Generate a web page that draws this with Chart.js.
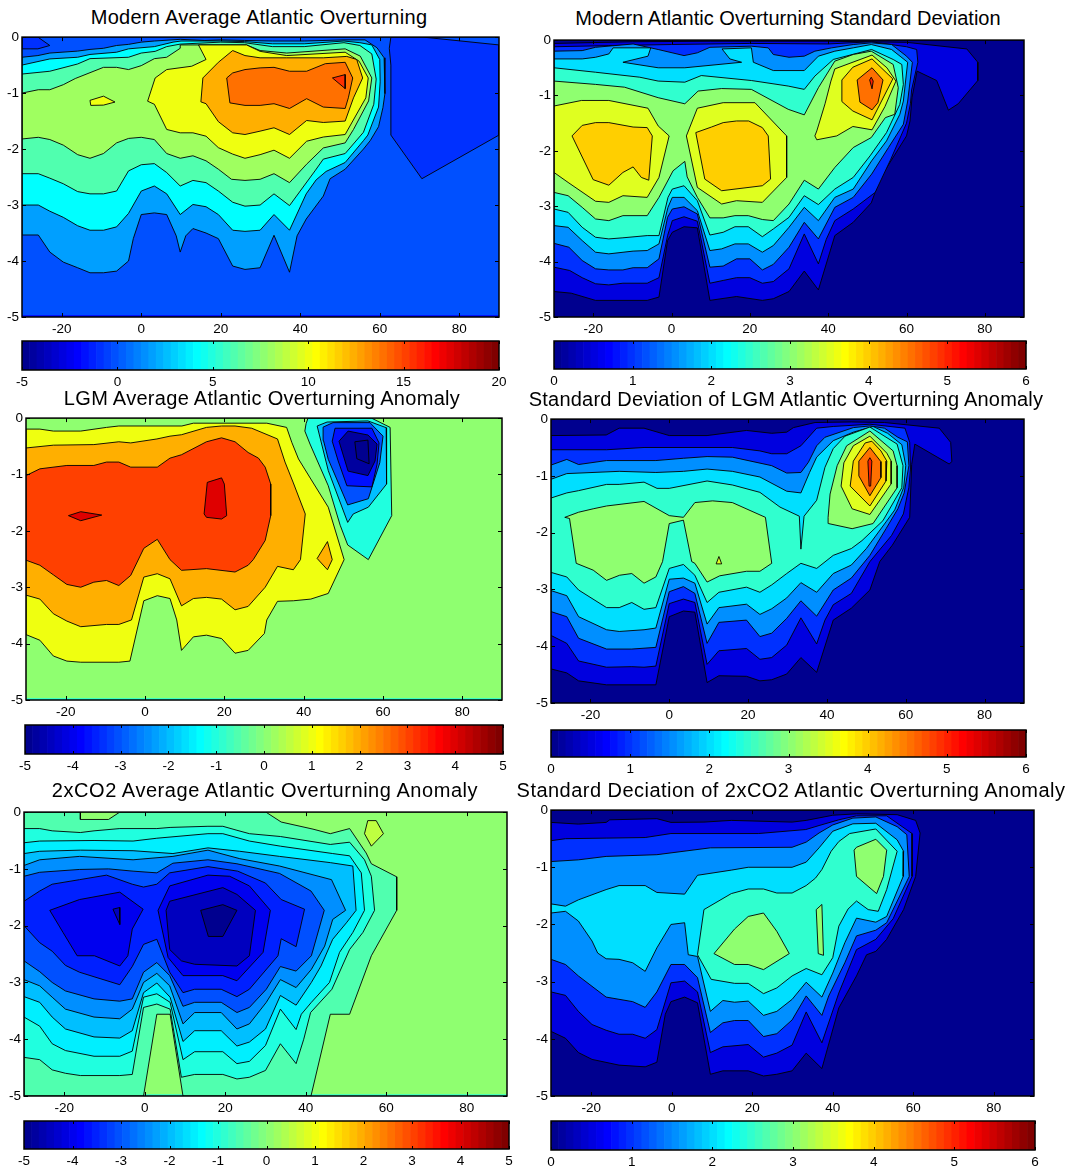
<!DOCTYPE html>
<html>
<head>
<meta charset="utf-8">
<title>Atlantic Overturning</title>
<script src="https://cdn.jsdelivr.net/npm/chart.js@4"></script>
<style>
  html, body { margin: 0; background: #fff; }
  #page { position: relative; width: 1077px; height: 1173px; overflow: hidden; }
  canvas { position: absolute; }
  .title { position: absolute; transform: translateX(-50%); white-space: nowrap; font: 20px "Liberation Sans", Arial, sans-serif; color: #000; }
</style>
</head>
<body>
<div id="page"></div>
<script>
// ─── Axis ticks ──────────────────────────────────────────────────
const LON_TICKS = [-20, 0, 20, 40, 60, 80];
const DEPTH_TICKS = [-5, -4, -3, -2, -1, 0];
const BAR_TICKS_MODERN = [-5, 0, 5, 10, 15, 20];
const BAR_TICKS_ANOM = [-5, -4, -3, -2, -1, 0, 1, 2, 3, 4, 5];
const BAR_TICKS_STD = [0, 1, 2, 3, 4, 5, 6];

// MATLAB jet, 64 steps, as in the colour bars
const JET = ['#00008f','#00009f','#0000af','#0000bf','#0000cf','#0000df','#0000ef','#0000ff',
  '#0010ff','#0020ff','#0030ff','#0040ff','#0050ff','#0060ff','#0070ff','#0080ff',
  '#008fff','#009fff','#00afff','#00bfff','#00cfff','#00dfff','#00efff','#00ffff',
  '#10ffef','#20ffdf','#30ffcf','#40ffbf','#50ffaf','#60ff9f','#70ff8f','#80ff80',
  '#8fff70','#9fff60','#afff50','#bfff40','#cfff30','#dfff20','#efff10','#ffff00',
  '#ffef00','#ffdf00','#ffcf00','#ffbf00','#ffaf00','#ff9f00','#ff8f00','#ff8000',
  '#ff7000','#ff6000','#ff5000','#ff4000','#ff3000','#ff2000','#ff1000','#ff0000',
  '#ef0000','#df0000','#cf0000','#bf0000','#af0000','#9f0000','#8f0000','#800000'];

// ─── Contour data: [longitude, depth in km] ──────────────────────
const fullBox = [[-30,0],[90,0],[90,5],[-30,5]];
const seaBox = [[-30,0],[90,0],[90,4.97],[-30,4.97]];

// Modern average
const modernAvgLevels = [-2, -0.3, -0.9, -0.9, 1.8, 4.2, 6.1, 8.1, 10, 10, 12.4, 14, 15.5];
const modernAvgShapes = [fullBox, seaBox,
  [[-30,0],[-26,0],[-23,.15],[-26,.21],[-30,.21]],
  [[62.8,0],[70.9,0],[90,.14],[90,1.75],[70.6,2.53],[62.8,1.75],[62.8,.5],[62.4,.2]],
  [[-30,.36],[-26,.33],[-23,.285],[-16,.25],[-12.9,.22],[-9.5,.2],[-6.2,.15],[-3.2,.13],[0,.09],[3.3,.07],[9.8,.04],[16,.06],[20,.05],[26,.06],[33,.07],[41,.07],[51,.05],[56.3,.05],[59.3,.19],[61.1,.37],[61.3,1.01],[60.8,1.26],[59.7,1.6],[57.6,1.85],[55.9,2],[51.3,2.36],[47.5,2.53],[45.8,2.84],[41.5,3.25],[39.2,3.55],[37.3,4.2],[33.4,3.54],[29.9,4.12],[26.1,4.15],[23,4.09],[19.4,3.6],[16.3,3.5],[13,3.42],[11.2,3.55],[9.8,3.84],[8.8,3.55],[6.4,3.17],[3.3,3.14],[0,3.17],[-2,3.6],[-3.2,4],[-6.2,4.18],[-9.5,4.21],[-12.9,4.21],[-16,4.12],[-19.6,4.02],[-23,3.84],[-25.9,3.535],[-30,3.535]],
  [[-30,.5],[-23,.39],[-16,.36],[-12.9,.31],[-6.2,.27],[-3.2,.21],[3.3,.17],[8,.09],[10,.07],[20,.07],[26,.08],[33,.12],[41,.12],[51,.07],[55,.1],[58,.14],[60,.4],[60.1,.8],[59.7,1.25],[57,1.75],[55.9,1.85],[51.3,2.24],[46.5,2.4],[44,2.55],[41.5,2.8],[37.3,3.45],[33.4,3.17],[29.9,3.45],[26.1,3.47],[23,3.45],[19.4,3.17],[16.3,3.03],[13,2.99],[9.8,3.17],[6.4,2.8],[3.3,2.66],[0,2.75],[-3.2,3.15],[-6.2,3.39],[-9.5,3.45],[-12.9,3.45],[-16,3.37],[-19.6,3.22],[-23,3.11],[-25.9,3],[-30,3]],
  [[-30,.66],[-23,.61],[-16,.48],[-12.9,.385],[-3.2,.36],[0,.285],[3.5,.255],[6.4,.17],[9.8,.125],[20,.09],[26,.1],[33,.17],[41,.17],[51,.1],[55,.15],[58,.3],[59.1,.75],[58.5,1.2],[55.9,1.7],[51.3,2.08],[45.8,2.18],[43.7,2.39],[37.3,3.01],[33.4,2.8],[29.9,3],[26.1,3.02],[23,2.95],[19.4,2.75],[16.3,2.6],[13,2.56],[9.8,2.66],[6.4,2.42],[3.3,2.26],[0,2.28],[-3.2,2.39],[-6.2,2.75],[-9.5,2.8],[-12.9,2.8],[-16,2.76],[-19.6,2.62],[-23,2.52],[-25.9,2.44],[-30,2.44]],
  [[-30,1],[-25.9,.94],[-23,.94],[-19.6,.85],[-16.6,.74],[-9.5,.54],[-6.2,.54],[-3.2,.58],[0,.51],[3.3,.385],[6.4,.36],[9.8,.2],[9.8,.14],[26.5,.14],[29.9,.24],[36.6,.285],[51.3,.21],[55.1,.34],[58,.73],[57.2,1.14],[53.4,1.65],[51.3,1.89],[45.8,1.98],[41.6,2.27],[37.3,2.6],[33.4,2.44],[29.9,2.54],[26.1,2.56],[22.7,2.54],[19.4,2.36],[16.3,2.21],[13,2.12],[9.8,2.165],[6.4,2.08],[3.3,1.83],[0,1.79],[-3.2,1.81],[-6.2,1.89],[-9.5,2.08],[-12.9,2.165],[-16,2.1],[-19.6,1.93],[-23,1.83],[-25.9,1.79],[-30,1.82]],
  [[14.4,.14],[26.5,.14],[29.9,.255],[36.6,.33],[51.3,.27],[54.8,.43],[57.1,.73],[56.5,1.085],[51.3,1.74],[45.8,1.785],[41.6,1.86],[37.3,2.165],[33.4,2.02],[29.9,2.1],[26.1,2.165],[23,2.09],[19.4,1.975],[16.3,1.77],[13,1.71],[9.8,1.71],[6.4,1.65],[3.3,1.2],[1.6,1.145],[3.5,.73],[6.4,.58],[12.7,.52],[16.3,.4]],
  [[-12.9,1.13],[-9.5,1.055],[-6.6,1.16],[-9.5,1.215],[-12.7,1.22]],
  [[15.5,.73],[19.4,.45],[23,.24],[26.1,.33],[29.9,.37],[36.6,.37],[45.8,.37],[51.7,.345],[54.2,.4],[55.7,.73],[53.4,1.085],[51.3,1.5],[45.8,1.525],[41.6,1.49],[37.3,1.74],[33.4,1.62],[29.9,1.68],[26.1,1.74],[23,1.71],[19.4,1.51],[16.3,1.19],[15,1.157]],
  [[21.5,.73],[23,.64],[26.1,.58],[29.9,.55],[33.4,.54],[37.3,.61],[41.6,.61],[46.3,.475],[51.3,.45],[53.2,.73],[52.1,1.085],[51.3,1.275],[45.8,1.25],[41.6,1.1],[37.3,1.275],[33.4,1.19],[29.9,1.22],[26.1,1.22],[22.3,1.175]],
  [[48.1,.73],[51.3,.67],[51.3,.92]]
];

// Modern standard deviation
const modernStdLevels = [0.05, 0.05, 0.5, 1, 1.5, 2, 2.5, 3, 3.5, 3.5, 3.5, 4, 4, 4, 4.5, 5];
const modernStdShapes = [fullBox, seaBox,
  [[-30,.06],[-10,.03],[10,.02],[40,.02],[60,.04],[75.4,.16],[78.2,.4],[78.2,.73],[73.2,1.15],[70.7,1.265],[67.7,.73],[62.7,.56],[61.4,1.04],[60.9,1.46],[60,1.73],[53.4,2.48],[51,2.94],[46.4,3.29],[41.7,3.53],[37.5,4.51],[33.9,4.17],[30,4.54],[26,4.67],[23.2,4.7],[16.6,4.63],[9.8,4.7],[6.6,3.39],[3.2,3.37],[.2,3.47],[-1,3.62],[-3.2,4.64],[-6.2,4.7],[-19.4,4.7],[-25.6,4.57],[-30,4.54]],
  [[-30,.12],[-16,.1],[0,.08],[20,.06],[40,.07],[51,.03],[60,.12],[62.6,.17],[62.9,.4],[61.3,.9],[61,1.15],[60,1.5],[56,2.15],[52,2.75],[46.4,3.05],[41.7,3.26],[39.5,3.6],[37.5,4.04],[33.9,3.5],[30,4.13],[26,4.36],[23.2,4.39],[20,4.29],[16.6,4.29],[13.2,4.34],[9.8,4.39],[6.6,3.27],[3.2,3.19],[.2,3.26],[-1,3.53],[-3.2,4.29],[-6.2,4.39],[-12.4,4.39],[-16,4.42],[-19.4,4.4],[-22.8,4.29],[-26,4.16],[-30,4.1]],
  [[-30,.2],[-22.8,.19],[-19.4,.13],[-9.8,.07],[-3.4,.17],[3.2,.28],[6.6,.23],[9.8,.13],[20.4,.11],[24.7,.14],[26,.26],[30,.31],[33.9,.29],[36.6,.2],[40.9,.14],[46.4,.08],[51,.05],[56.2,.08],[60,.29],[61.5,.4],[60.3,1.1],[59.2,1.52],[55.4,1.94],[51.1,2.42],[46.4,2.84],[41.7,3.02],[37.5,3.59],[33.9,3.29],[30,3.74],[26,4.05],[23.2,4.15],[20,3.95],[16.6,3.95],[13.2,4.08],[9.8,4.1],[6.6,3.14],[3.2,3.01],[.2,3.05],[-1,3.2],[-3.2,3.95],[-6.2,4.11],[-9.8,4.11],[-12.4,4.15],[-16,4.15],[-19.4,4.13],[-22.8,3.98],[-26.2,3.74],[-30,3.67]],
  [[-30,.34],[-22.8,.34],[-19.4,.31],[-16,.25],[-14.9,.14],[-5.3,.14],[-6,.29],[-12.4,.4],[-3.4,.5],[3.4,.5],[17.9,.4],[14.9,.34],[12.9,.16],[20.4,.14],[20.9,.4],[26,.55],[33.9,.55],[37.5,.29],[41.7,.2],[46.4,.14],[51,.08],[56.2,.17],[60.3,.4],[59.2,1.1],[58.3,1.34],[54.9,1.82],[51.1,2.18],[46.4,2.69],[41.7,2.84],[37.5,3.26],[33.9,3.02],[30,3.38],[26,3.71],[23.2,3.83],[19.6,3.68],[16.2,3.68],[12.8,3.77],[9.8,3.8],[6.6,3.08],[3.2,2.84],[.2,2.84],[-.9,3.02],[-3.2,3.68],[-6.2,3.8],[-9.8,3.81],[-16,3.86],[-19.4,3.83],[-22.8,3.62],[-26.4,3.38],[-30,3.35]],
  [[-30,.5],[-19.4,.58],[-8.1,.67],[-3.4,.74],[3.4,.76],[7.6,.64],[20.4,.73],[29.8,.83],[33.9,.89],[36.6,.65],[41.3,.35],[51.1,.17],[56.6,.35],[58.8,.44],[59.2,.8],[58.3,1.16],[54.9,1.67],[50.7,2.09],[46.4,2.48],[41.7,2.69],[37.5,2.97],[33.9,2.81],[30,3.2],[26,3.41],[23.2,3.55],[19.6,3.37],[16.2,3.37],[13.2,3.47],[9.8,3.52],[6.6,2.9],[3.2,2.63],[.2,2.69],[-.9,2.84],[-3.2,3.53],[-6.2,3.53],[-12.4,3.57],[-16,3.59],[-19.4,3.56],[-22.8,3.38],[-26.4,3.11],[-30,3.05]],
  [[-30,.74],[-19.4,.8],[-12,.85],[-3.4,1.04],[3.4,1.15],[6.8,.92],[12.8,.875],[20.4,.89],[29.8,1.25],[33.9,1.35],[37.5,.86],[41.7,.38],[46.4,.26],[51,.2],[56.6,.44],[57.9,.86],[57,1.34],[54.6,1.4],[51,1.76],[46.4,1.94],[41.7,2.3],[37.5,2.69],[33.9,2.53],[30,2.96],[26,3.26],[23.2,3.24],[19.6,3.17],[16.2,3.17],[13.2,3.21],[9.8,3.21],[6.6,2.84],[4,2.47],[3.4,2.19],[.4,2.36],[-3.2,2.84],[-6.2,3.17],[-12.4,3.17],[-16,3.26],[-19.4,3.23],[-22.8,3.02],[-26.4,2.81],[-30,2.75]],
  [[-30,1.19],[-23,1.09],[-16,1.09],[-6,1.23],[-3.4,1.55],[-.6,1.73],[-3.2,2.48],[-6.2,2.84],[-12.4,2.81],[-16,2.93],[-19.4,2.91],[-26.4,2.57],[-30,2.39]],
  [[6.6,1.23],[13.2,1.13],[21.3,1.13],[29.4,1.73],[29.4,2.48],[23.2,2.93],[16.6,2.9],[12.8,2.96],[6.6,2.66],[3.8,1.73]],
  [[37.1,1.8],[36.6,1.73],[37.1,1.64],[39.2,1.15],[40.7,.74],[41.7,.52],[51.2,.27],[55,.5],[57.3,.74],[54.5,1.2],[51.2,1.62],[46.3,1.56],[42.2,1.73]],
  [[-25.4,1.73],[-22.8,1.54],[-19.4,1.49],[-16,1.49],[-9.8,1.57],[-6.2,1.58],[-4.9,1.73],[-5.8,2.53],[-7.7,2.48],[-9.8,2.29],[-12.4,2.39],[-16,2.62],[-20,2.52]],
  [[6.2,1.67],[10.2,1.57],[13.2,1.49],[16.6,1.46],[19.7,1.46],[23.2,1.58],[24.7,1.73],[25.3,2.51],[23.2,2.63],[12.8,2.72],[8.5,2.51]],
  [[43.5,.72],[46.3,.49],[51.2,.34],[56.5,.7],[51.2,1.44],[46.3,1.28],[43.5,1.11]],
  [[47.4,.72],[51.2,.5],[54,.72],[52.7,1.13],[51.2,1.26],[48.1,1.12]],
  [[50.6,.72],[51,.67],[51.5,.74],[51.2,.88]]
];

// LGM anomaly
const lgmAvgLevels = [-1, 0, 1, 2, 2, 3, 4, 4, -1, -2, -3, -3.6, -4.7, -4.95];
const lgmAvgShapes = [fullBox, seaBox,
  [[-30,.195],[-26.5,.195],[-23.1,.23],[-16.2,.23],[-9.7,.165],[-6.6,.14],[9.3,.14],[12.2,.09],[17.4,.09],[30.7,.09],[35.7,.165],[37,.43],[38.7,.725],[41.8,1.08],[46.2,1.58],[50.2,2.51],[46.2,3.11],[41.8,3.21],[37.4,3.24],[33.4,3.25],[30.7,3.58],[30.1,3.82],[26,4.12],[22.7,4.17],[19.3,3.91],[15.5,3.85],[12.2,3.88],[9.2,4.12],[8,3.58],[6.3,3.2],[3.1,3.15],[-.3,3.24],[-3.8,4.31],[-6.6,4.33],[-16.2,4.33],[-19.7,4.31],[-23.1,4.22],[-26.5,3.94],[-30,3.84]],
  [[-30,.53],[-23.1,.48],[-12.9,.47],[-6.6,.42],[-3.6,.44],[3,.37],[6.3,.32],[9.2,.295],[15.5,.165],[19.3,.14],[22.7,.14],[26.9,.18],[33.4,.37],[35.3,.78],[37.4,1.15],[40.4,1.7],[39.2,2.51],[37.4,2.69],[33.4,2.63],[30.3,3],[26,3.34],[22.7,3.4],[19.3,3.21],[15.5,3.18],[12.2,3.2],[9.2,3.33],[6.3,2.85],[3.1,2.76],[-.3,2.82],[-3.4,3.58],[-6.6,3.66],[-9.7,3.66],[-16.2,3.7],[-19.7,3.6],[-23.1,3.47],[-26.5,3.21],[-30,3.14]],
  [[46,2.19],[47.2,2.51],[46,2.69],[43.4,2.49]],
  [[-30,1.02],[-26.5,.9],[-19.7,.84],[-12.9,.84],[-9.7,.78],[-6.6,.78],[-3.6,.87],[3.1,.87],[6.3,.71],[9.2,.65],[15.5,.42],[19.3,.35],[22.7,.42],[26,.61],[28.6,.71],[30.3,.87],[31.7,1.17],[31.7,1.73],[30.3,2.17],[27.3,2.51],[26,2.61],[22.7,2.73],[15.5,2.67],[9.2,2.7],[6.3,2.51],[3.1,2.15],[-.3,2.31],[-3.6,2.79],[-6.6,2.97],[-9.7,2.88],[-12.9,2.91],[-16.2,3],[-19.7,2.95],[-23.1,2.78],[-26.5,2.61],[-30,2.52]],
  [[15.7,1.14],[19.3,1.06],[20,1.17],[20.6,1.73],[19.3,1.79],[15.5,1.76],[14.9,1.7]],
  [[-19.3,1.73],[-16.2,1.66],[-10.9,1.72],[-16.2,1.82]],
  [[41.1,0],[57.1,0],[61.8,.165],[62.2,1.73],[56.3,2.51],[51.1,2.25],[49.2,1.9],[46.2,1.2],[41.6,.46],[40.3,.23],[40.6,.1]],
  [[43.4,.14],[45.9,.07],[56.2,.05],[60.8,.17],[61,.41],[60.8,1.17],[56.3,1.58],[52.5,1.7],[51.1,1.85],[46.2,.93]],
  [[44.9,.16],[47.4,.08],[56.7,.08],[60,.32],[59.2,.79],[56.3,1.43],[51.1,1.54],[46.2,.73],[45,.4]],
  [[47.2,.41],[47.9,.18],[57.2,.18],[59,.44],[58.5,.82],[57.2,1.22],[50.9,1.2],[48.7,.76]],
  [[48.9,.41],[51.2,.23],[56.2,.3],[58.5,.46],[58,.76],[56.2,1.02],[51.2,.94]],
  [[52.9,.42],[56.2,.39],[56.5,.81],[53.4,.72]]
];

// LGM standard deviation
const lgmStdLevels = [0.05, 0.05, 0.5, 1, 1.5, 2, 2.5, 3, 3, 3.5, 3.5, 4, 4.5, 5];
const lgmStdShapes = [fullBox, seaBox,
  [[-30,.29],[-16,.28],[-12.7,.16],[-6.4,.16],[0,.29],[9.6,.29],[19.6,.2],[26,.25],[29.8,.23],[31.5,.15],[37,.06],[46.2,.05],[54.6,.06],[68.5,.16],[71.4,.41],[71.7,.75],[71,.79],[62.3,.44],[61.5,.8],[61,1.73],[56.6,2.22],[53.4,2.51],[50.9,3.01],[46.2,3.33],[41.6,3.54],[37.4,4.46],[33.4,4.2],[29.8,4.49],[26,4.59],[23,4.61],[19.6,4.53],[12.6,4.52],[9.6,4.64],[6.5,3.4],[3.6,3.38],[0,3.48],[-3.4,4.68],[-15.9,4.68],[-23,4.61],[-26,4.47],[-30,4.4]],
  [[-30,.54],[-15.9,.54],[-6.4,.5],[16,.5],[23,.56],[26,.61],[29.8,.61],[33.4,.47],[37.4,.16],[41.6,.13],[50.9,.09],[59.8,.16],[61,.41],[61.2,.88],[60.8,1.2],[59.4,1.67],[56.4,2.05],[50.9,2.51],[46.2,3.07],[41.6,3.27],[39.5,3.54],[37.4,3.96],[33.4,3.5],[29.8,3.98],[26,4.2],[23,4.23],[19.6,4.04],[12.6,4.08],[9.6,4.32],[6.5,3.23],[3.6,3.17],[0,3.25],[-3.4,4.35],[-6.4,4.37],[-9.5,4.36],[-15.9,4.37],[-23,4.26],[-26,3.95],[-30,3.81]],
  [[-30,.81],[-26,.71],[-23,.8],[-15.9,.73],[-3.4,.73],[3.6,.69],[9.6,.66],[16,.67],[26,.82],[29.8,.95],[33.4,.94],[35.3,.76],[37.4,.47],[39.5,.32],[46.7,.15],[50.9,.12],[54.6,.16],[58,.32],[60.4,.4],[60.8,.82],[59.6,1.3],[58,1.58],[55,1.93],[50.9,2.4],[46.2,2.8],[41.6,3.01],[37.4,3.47],[33.4,3.2],[29.8,3.51],[26,3.77],[23,3.83],[19.6,3.54],[12.6,3.58],[9.6,3.95],[6.5,3.07],[3.6,2.95],[0,3.04],[-3.4,4.02],[-9.5,4.05],[-15.9,4.05],[-23,3.86],[-26,3.48],[-30,3.39]],
  [[-30,1.06],[-26,.96],[-12.7,.92],[-3.4,.94],[3.6,.92],[9.6,.88],[16,.92],[23,1.02],[29.8,1.27],[33.4,1.3],[35.6,.94],[37.4,.67],[41.6,.38],[46.7,.23],[51.7,.13],[55.4,.25],[59,.45],[60,.82],[59.5,1.2],[57.2,1.6],[55,1.81],[50,2.28],[46.2,2.57],[41.6,2.72],[37.4,3.05],[33.4,2.88],[29.8,3.15],[26,3.34],[23,3.44],[19.6,3.26],[12.6,3.32],[9.6,3.61],[6.5,2.89],[3.6,2.8],[0,2.82],[-3.4,3.68],[-6.4,3.71],[-12.7,3.74],[-15.9,3.71],[-23,3.48],[-26,3.11],[-30,3.02]],
  [[-30,1.39],[-26,1.3],[-23,1.26],[-15.9,1.15],[-12.7,1.15],[-6.4,1.11],[-3.1,1.22],[0,1.22],[9.6,1.09],[16,1.16],[23,1.29],[28.1,1.55],[33,1.71],[33.4,2.29],[34.2,1.71],[37.4,1.43],[39.5,.85],[41.6,.52],[44.6,.3],[50.9,.14],[57.8,.44],[59.3,.82],[59,1.21],[54.2,1.79],[48.9,2.14],[46.2,2.28],[41.6,2.4],[37.4,2.63],[33.4,2.54],[29.8,2.72],[26,2.92],[23,3.05],[19.6,2.96],[12.6,3.05],[9.6,3.23],[6.5,2.75],[3.6,2.56],[0,2.63],[-3.4,3.32],[-6.4,3.35],[-9.5,3.23],[-12.7,3.32],[-15.9,3.32],[-23,3.01],[-26,2.78],[-30,2.7]],
  [[-26.5,1.73],[-25.3,1.75],[-23.6,2.54],[-19.3,2.66],[-15.9,2.84],[-12.6,2.75],[-9.5,2.72],[-6.4,2.89],[-3.4,2.78],[-1.7,2.51],[0,1.84],[3.6,1.78],[5.7,2.51],[6.5,2.54],[9.6,2.87],[12.8,2.76],[19.6,2.68],[23,2.68],[26,2.54],[24.4,1.73],[16,1.47],[11,1.44],[6.5,1.47],[3.6,1.73],[0,1.7],[-6.4,1.45],[-15.9,1.53],[-19.3,1.58],[-23,1.64]],
  [[40.3,1.73],[40.8,1.32],[42.6,.82],[45,.47],[50.9,.21],[56.8,.56],[57.8,.82],[57.8,1.21],[51.7,1.84],[46.4,1.93],[40.4,1.84]],
  [[12.6,2.42],[13.3,2.55],[11.9,2.55]],
  [[43.6,1.18],[44.3,.77],[46.7,.47],[50.9,.3],[55.2,.6],[56.3,.74],[56.3,1.14],[50.9,1.68],[46.4,1.58]],
  [[45.9,1.18],[46.7,.74],[49.7,.42],[51.4,.39],[53.7,.56],[55.2,.74],[55,1.09],[50.9,1.53]],
  [[48.1,1],[48.1,.74],[50.9,.5],[53.7,.75],[53.7,1.03],[50.9,1.35]],
  [[50.4,.74],[50.9,.68],[51.4,.74],[51.1,1.18],[50.7,1.18]]
];

// 2xCO2 anomaly
const co2AvgLevels = [-0.9, 0, -0.5, 0.5, -1, -1.5, -2, -2.5, -3, -3.5, -4, -4.5, -4, -4.5, -4.9];
const co2AvgShapes = [fullBox, seaBox,
  [[-30,0],[-16,0],[-16,.13],[-9,.13],[-6.2,0],[30.1,0],[33.9,.175],[41.8,.3],[46.1,.38],[50.9,.29],[55,.72],[56.3,.91],[62.6,1.14],[62.6,1.73],[56.3,2.53],[50.9,3.56],[46.1,3.56],[41.3,5],[9.5,5],[6.3,3.56],[3,3.56],[-.3,5],[-30,5]],
  [[55.4,.15],[57.5,.15],[59.3,.38],[56.3,.6],[54.6,.38]],
  [[-30,.29],[-26.1,.29],[-23,.33],[-16,.36],[-12.6,.33],[-6.2,.29],[3,.29],[6.3,.27],[15.7,.25],[19.4,.25],[22.9,.32],[26,.38],[33.7,.43],[46.1,.57],[50.9,.53],[54.6,.84],[56.3,1.13],[57.1,1.73],[54.2,2.12],[50.9,2.42],[46.5,3.12],[41.2,3.53],[39.5,4],[37.6,4.43],[33.7,4.08],[30,4.55],[26,4.67],[22.9,4.7],[19.4,4.62],[12.4,4.62],[9.1,4.67],[6.3,3.47],[3,3.38],[-.3,3.44],[-3.1,4.62],[-6.2,4.64],[-16,4.64],[-19.7,4.6],[-23,4.54],[-26.1,4.36],[-30,4.32]],
  [[-30,.54],[-26.1,.51],[-12.6,.5],[-2.9,.51],[3,.46],[15.7,.38],[19.4,.38],[26,.51],[33.7,.6],[46.7,.73],[50.9,.77],[53.8,1.07],[54.6,1.73],[51.7,2.12],[48.4,2.47],[45.9,3],[41.4,3.35],[38.9,3.56],[37.6,3.83],[33.7,3.47],[30,4.11],[26,4.39],[22.9,4.43],[19.4,4.22],[12.4,4.22],[9.5,4.36],[6.3,3.35],[3,3.2],[-.3,3.26],[-3.1,4.21],[-6.2,4.3],[-12.6,4.3],[-19.7,4.2],[-23,4.08],[-26.1,3.77],[-30,3.61]],
  [[-30,.73],[-26.1,.69],[-16,.67],[-2.9,.68],[7,.73],[15.7,.63],[23.6,.69],[33.5,.78],[46.1,.89],[51.7,.95],[52.5,1.73],[50.1,1.95],[46.7,2.24],[43.8,2.71],[41.4,3],[37.6,3.4],[33.7,3.23],[30,3.82],[26,4.05],[22.9,4.12],[19,3.85],[12.4,3.85],[9.5,4.04],[6.3,3.26],[3,3.01],[-.3,3.18],[-3.1,3.85],[-6.2,3.98],[-12.6,3.96],[-19.7,3.82],[-23,3.61],[-26.1,3.35],[-30,3.25]],
  [[-30,.94],[-26.1,.84],[-16.2,.78],[-2.9,.84],[7,.78],[15.7,.67],[23.6,.82],[33.5,.95],[46.4,1.19],[49.9,1.73],[46.7,1.89],[44.7,2.36],[41.4,2.77],[37.6,3.09],[33.7,2.95],[30.2,3.35],[26,3.73],[22.9,3.82],[19,3.53],[12.4,3.53],[9.5,3.73],[6.2,3.06],[3,2.84],[-.3,3],[-3.1,3.47],[-6.2,3.64],[-12.6,3.61],[-19.7,3.47],[-23,3.26],[-26.1,3.06],[-30,2.95]],
  [[-30,1.13],[-26.1,1.06],[-16.2,1.01],[-9,1],[-2.9,1.04],[3,1.07],[7,.9],[15.7,.84],[22.9,.91],[33.5,1.08],[41.3,1.39],[44.6,1.73],[41.4,2.53],[37.6,2.8],[33.7,2.72],[30.2,3.12],[26,3.44],[22.9,3.53],[19,3.35],[12.4,3.35],[9.5,3.42],[6.2,2.88],[3,2.65],[-.3,2.82],[-3.1,3.29],[-6.2,3.33],[-12.6,3.29],[-19.7,3.15],[-23,3],[-26.1,2.81],[-30,2.62]],
  [[-30,1.57],[-26.1,1.39],[-23,1.27],[-16.2,1.19],[-9.5,1.11],[-3.1,1.27],[-.3,1.32],[3,1.27],[6.2,1.07],[15.7,.96],[23.1,1.04],[30,1.25],[33.9,1.54],[39.7,1.71],[37.6,2.37],[33.9,2.23],[33.1,2.53],[26,3.12],[22.9,3.25],[19,3.12],[12.4,3.12],[9.5,3.18],[6.2,2.82],[3,2.24],[-.3,2.33],[-3.1,2.72],[-6.2,3.04],[-12.6,2.9],[-16.2,2.82],[-19.7,2.7],[-23,2.45],[-26.1,2.3],[-30,2]],
  [[-23.6,1.73],[-16.2,1.54],[-6.2,1.41],[-.4,1.71],[-3.1,2.06],[-4.2,2.53],[-6.2,2.71],[-12.5,2.53],[-16.8,2.53],[-20.3,2.12]],
  [[-7.9,1.71],[-6.2,1.68],[-6.2,1.98]],
  [[3.3,1.73],[6.2,1.3],[15.7,1.11],[21.1,1.13],[26,1.3],[31.2,1.73],[29.4,2.47],[22.9,2.97],[19.4,2.88],[9.5,2.88],[5.8,2.56]],
  [[5.3,1.73],[6.2,1.57],[19.4,1.33],[22.9,1.45],[27.5,1.73],[26,2.53],[22.9,2.71],[12.4,2.68],[9.1,2.62],[6.2,2.42]],
  [[13.9,1.73],[19.4,1.63],[22.9,1.73],[19.4,2.19],[15.8,2.19]]
];

// 2xCO2 standard deviation
const co2StdLevels = [0.05, 0.05, 0.5, 1, 1.5, 2, 2.5, 3, 3, 3];
const co2StdShapes = [fullBox, seaBox,
  [[-30,.215],[-23.2,.245],[-16.3,.215],[-15.4,.17],[-3.7,.15],[-.2,.215],[8,.21],[14.8,.18],[29.9,.21],[33.4,.18],[40,.09],[45.9,.065],[56,.08],[60.6,.18],[61.7,.4],[60.6,1.16],[57.6,1.74],[53.4,2.26],[50.7,2.47],[48.4,2.53],[45.9,2.9],[41.5,3.46],[37.3,4.52],[33.4,4.25],[29.9,4.56],[26.1,4.62],[22.8,4.65],[19,4.56],[12.7,4.56],[9.6,4.62],[6.4,3.37],[3.2,3.27],[-.2,3.35],[-1.6,3.57],[-3.7,4.41],[-6.6,4.49],[-13.1,4.46],[-19.8,4.36],[-23.2,4.24],[-26.4,3.99],[-30,3.87]],
  [[-30,.535],[-26.4,.5],[-16.3,.49],[-6.6,.48],[-.2,.41],[21.5,.41],[23.2,.4],[33.3,.34],[36.6,.27],[41.5,.17],[45.9,.1],[53.4,.1],[59.7,.41],[59.7,1.16],[55,1.9],[50.7,2.26],[45.9,2.44],[41.5,3.2],[37.3,4.07],[33.4,3.53],[29.9,4.11],[26.1,4.25],[22.8,4.32],[19,4.1],[12.7,4.14],[9.6,4.24],[6.4,3.18],[3.2,2.99],[-.2,3.02],[-3.7,3.84],[-6.6,3.99],[-9.7,3.92],[-13.1,3.92],[-16.3,3.85],[-19.8,3.75],[-23.2,3.52],[-26.4,3.24],[-30,3.18]],
  [[-30,.9],[-23.2,.87],[-16.3,.81],[-3.7,.78],[9.6,.66],[29.9,.65],[33.4,.56],[36.6,.4],[40,.26],[45,.14],[50.7,.12],[56,.29],[58.4,.43],[59,1.16],[53.4,1.97],[50.7,2.1],[45.9,2.2],[43,2.67],[39,3.25],[37.3,3.59],[33.4,3.25],[29.9,3.67],[26.1,3.91],[22.8,3.96],[19,3.68],[15.6,3.68],[12.7,3.72],[9.6,3.89],[6.4,2.93],[3.2,2.7],[-.2,2.7],[-3.7,3.18],[-6.6,3.45],[-9.7,3.35],[-16.3,3.27],[-23.2,2.9],[-26.4,2.7],[-30,2.61]],
  [[-30,1.64],[-26.4,1.68],[-23.2,1.57],[-16.3,1.39],[-13.1,1.32],[-6.6,1.32],[-3.7,1.44],[3.2,1.47],[6.4,1.14],[14.8,1.05],[19,1],[29.9,1],[33.4,.91],[36.6,.66],[40,.37],[45,.24],[50.7,.23],[56,.52],[57.6,.72],[57.5,1.16],[53.4,1.86],[50.7,1.96],[45.9,1.89],[43,2.32],[40,2.85],[37.3,3.27],[33.4,3.01],[29.9,3.31],[26.1,3.52],[22.8,3.59],[19,3.34],[15.6,3.36],[12.7,3.33],[9.6,3.52],[6.4,2.56],[4.1,2.53],[3.2,1.97],[-.2,2],[-3.7,2.41],[-6.6,2.82],[-9.7,2.67],[-13.1,2.61],[-16.3,2.6],[-18.4,2.5],[-19.8,2.29],[-23.2,1.94],[-26.4,1.77],[-30,1.8]],
  [[8,1.74],[14.8,1.46],[19,1.38],[22.8,1.38],[26.1,1.45],[29.9,1.45],[33.4,1.32],[35.7,1.19],[37.3,1.04],[39.6,.72],[41.5,.55],[44.2,.41],[50.7,.33],[56,.72],[53.4,1.39],[51.3,1.77],[48.8,1.74],[45.9,1.59],[43.8,1.73],[41.5,2.03],[40,2.58],[37.3,2.88],[33.4,2.77],[29.9,2.9],[26.1,3.11],[22.8,3.21],[19,3.03],[15.6,3.03],[9.8,2.96],[6.4,2.53]],
  [[10.5,2.51],[15.6,2.08],[19,1.86],[22.8,1.8],[26.1,2.12],[29.2,2.51],[22.8,2.79],[19,2.7],[15.6,2.7]],
  [[35.9,1.74],[37.3,1.65],[37.7,2.54],[36.4,2.51]],
  [[45.3,.7],[45.9,.65],[50.7,.51],[53.4,.7],[52.6,1.16],[50.9,1.46],[45.9,1.16]]
];

// ─── Layout ──────────────────────────────────────────────────────
const PANELS = [
  { title: 'Modern Average Atlantic Overturning', cx: 259, ty: 6, spacing: .29, plot: [22, 36, 477, 281], bar: [22, 341, 477, 29], levels: modernAvgLevels, shapes: modernAvgShapes, range: [-5, 20], barTicks: BAR_TICKS_MODERN },
  { title: 'Modern Atlantic Overturning Standard Deviation', cx: 788, ty: 7, spacing: .04, plot: [554, 39, 470, 278], bar: [554, 341, 472, 28], levels: modernStdLevels, shapes: modernStdShapes, range: [0, 6], barTicks: BAR_TICKS_STD },
  { title: 'LGM Average Atlantic Overturning Anomaly', cx: 262, ty: 387, spacing: .3, plot: [26, 417, 476, 283], bar: [25, 725, 478, 29], levels: lgmAvgLevels, shapes: lgmAvgShapes, range: [-5, 5], barTicks: BAR_TICKS_ANOM },
  { title: 'Standard Deviation of LGM Atlantic Overturning Anomaly', cx: 786, ty: 388, spacing: .2, plot: [551, 418, 473, 285], bar: [551, 730, 475, 27], levels: lgmStdLevels, shapes: lgmStdShapes, range: [0, 6], barTicks: BAR_TICKS_STD },
  { title: '2xCO2 Average Atlantic Overturning Anomaly', cx: 265, ty: 779, spacing: .55, plot: [24, 811, 483, 285], bar: [24, 1121, 485, 28], levels: co2AvgLevels, shapes: co2AvgShapes, range: [-5, 5], barTicks: BAR_TICKS_ANOM },
  { title: 'Standard Deciation of 2xCO2 Atlantic Overturning Anomaly', cx: 791, ty: 779, spacing: .47, plot: [551, 809, 483, 287], bar: [551, 1121, 484, 29], levels: co2StdLevels, shapes: co2StdShapes, range: [0, 6], barTicks: BAR_TICKS_STD }
];

const TICK_FONT = { family: '"Liberation Sans", Arial, sans-serif', size: 13.5 };

// frame and inward ticks on all sides, MATLAB style
const boxPlugin = {
  id: 'box',
  afterDatasetsDraw(chart, args, opts) {
    const { ctx, chartArea: a, scales } = chart;
    const len = opts.len;
    ctx.save();
    ctx.strokeStyle = '#000';
    ctx.lineWidth = 1;
    ctx.beginPath();
    scales.x.ticks.forEach(t => {
      const px = Math.round(scales.x.getPixelForValue(t.value)) + .5;
      ctx.moveTo(px, a.top); ctx.lineTo(px, a.top + len);
      ctx.moveTo(px, a.bottom); ctx.lineTo(px, a.bottom - len);
    });
    if (opts.yTicks) scales.y.ticks.forEach(t => {
      const py = Math.round(scales.y.getPixelForValue(t.value)) + .5;
      ctx.moveTo(a.left, py); ctx.lineTo(a.left + len, py);
      ctx.moveTo(a.right, py); ctx.lineTo(a.right - len, py);
    });
    ctx.stroke();
    ctx.lineWidth = 1.5;
    ctx.strokeRect(a.left, a.top, a.right - a.left, a.bottom - a.top);
    ctx.restore();
  }
};

function addCanvas(left, top, width, height) {
  const c = document.createElement('canvas');
  c.width = width; c.height = height;
  c.style.left = left + 'px'; c.style.top = top + 'px';
  c.style.width = width + 'px'; c.style.height = height + 'px';
  document.getElementById('page').appendChild(c);
  return c.getContext('2d');
}

function jetColor(v, range) {
  const i = Math.floor((v - range[0]) / (range[1] - range[0]) * JET.length);
  return JET[Math.max(0, Math.min(JET.length - 1, i))];
}

function drawContours(p) {
  const [l, t, w, h] = p.plot;
  const ctx = addCanvas(l - 30, t - 10, w + 40, h + 34);
  new Chart(ctx, {
    type: 'scatter',
    data: {
      datasets: p.shapes.map((pts, i) => ({
        data: pts.concat([pts[0]]).map(([lon, depth]) => ({ x: lon, y: -depth })),
        showLine: true,
        fill: 'shape',
        backgroundColor: jetColor(p.levels[i], p.range),
        borderColor: '#000',
        borderWidth: i < 2 ? 0 : 0.9,
        pointRadius: 0,
        tension: 0,
        order: p.shapes.length - i
      }))
    },
    options: {
      responsive: false,
      animation: false,
      events: [],
      layout: { padding: { top: 10, right: 10 } },
      plugins: { legend: { display: false }, tooltip: { enabled: false }, box: { len: 4, yTicks: true } },
      scales: {
        x: {
          type: 'linear', min: -30, max: 90,
          grid: { display: false, drawTicks: false }, border: { display: false },
          ticks: { color: '#000', font: TICK_FONT, padding: 4, maxRotation: 0 },
          afterBuildTicks: s => { s.ticks = LON_TICKS.map(v => ({ value: v })); },
          afterFit: s => { s.height = 24; }
        },
        y: {
          type: 'linear', min: -5, max: 0,
          grid: { display: false, drawTicks: false }, border: { display: false },
          ticks: { color: '#000', font: TICK_FONT, padding: 3 },
          afterBuildTicks: s => { s.ticks = DEPTH_TICKS.map(v => ({ value: v })); },
          afterFit: s => { s.width = 30; }
        }
      }
    },
    plugins: [boxPlugin]
  });
}

function drawColorBar(p) {
  const [l, t, w, h] = p.bar;
  const [lo, hi] = p.range;
  const ctx = addCanvas(l - 16, t - 2, w + 32, h + 24);
  new Chart(ctx, {
    type: 'bar',
    data: {
      datasets: [{
        data: JET.map((c, i) => ({ x: lo + (i + .5) * (hi - lo) / JET.length, y: 1 })),
        backgroundColor: JET,
        borderWidth: 0,
        barPercentage: 1,
        categoryPercentage: 1
      }]
    },
    options: {
      responsive: false,
      animation: false,
      events: [],
      layout: { padding: { top: 2, left: 16, right: 16 } },
      plugins: { legend: { display: false }, tooltip: { enabled: false }, box: { len: 3, yTicks: false } },
      scales: {
        x: {
          type: 'linear', min: lo, max: hi, offset: false,
          grid: { display: false, drawTicks: false, offset: false }, border: { display: false },
          ticks: { color: '#000', font: TICK_FONT, padding: 4, maxRotation: 0 },
          afterBuildTicks: s => { s.ticks = p.barTicks.map(v => ({ value: v })); },
          afterFit: s => { s.height = 22; }
        },
        y: { display: false, min: 0, max: 1 }
      }
    },
    plugins: [boxPlugin]
  });
}

PANELS.forEach(p => {
  const el = document.createElement('div');
  el.className = 'title';
  el.textContent = p.title;
  el.style.left = p.cx + 'px';
  el.style.top = p.ty + 'px';
  el.style.letterSpacing = p.spacing + 'px';
  document.getElementById('page').appendChild(el);
  drawContours(p);
  drawColorBar(p);
});
</script>
</body>
</html>
